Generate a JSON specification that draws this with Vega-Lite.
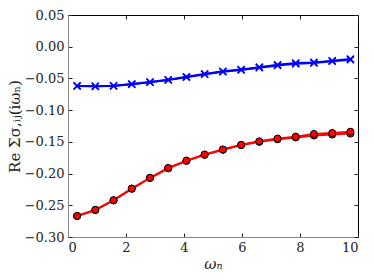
{
  "$schema": "https://vega.github.io/schema/vega-lite/v6.json",
  "autosize": {"type": "none"},
  "padding": {"left": 68, "top": 15, "right": 16, "bottom": 43},
  "width": 290,
  "height": 222,
  "background": "white",
  "config": {
    "view": {"stroke": "black", "strokeWidth": 1},
    "font": "DejaVu Serif",
    "axis": {"grid": false, "labelFont": "DejaVu Serif", "titleFont": "DejaVu Serif", "labelFontSize": 13, "titleFontSize": 15, "titleFontWeight": "normal", "labelColor": "#222", "titleColor": "#222"}
  },
  "datasets": {
    "d": [
      {"w": 0.314, "v": -0.267, "s": "ra", "c": "red"},
      {"w": 0.942, "v": -0.2575, "s": "ra", "c": "red"},
      {"w": 1.571, "v": -0.2423, "s": "ra", "c": "red"},
      {"w": 2.199, "v": -0.224, "s": "ra", "c": "red"},
      {"w": 2.827, "v": -0.207, "s": "ra", "c": "red"},
      {"w": 3.456, "v": -0.1918, "s": "ra", "c": "red"},
      {"w": 4.084, "v": -0.18, "s": "ra", "c": "red"},
      {"w": 4.712, "v": -0.1705, "s": "ra", "c": "red"},
      {"w": 5.341, "v": -0.1625, "s": "ra", "c": "red"},
      {"w": 5.969, "v": -0.1552, "s": "ra", "c": "red"},
      {"w": 6.597, "v": -0.15, "s": "ra", "c": "red"},
      {"w": 7.226, "v": -0.1458, "s": "ra", "c": "red"},
      {"w": 7.854, "v": -0.143, "s": "ra", "c": "red"},
      {"w": 8.482, "v": -0.14, "s": "ra", "c": "red"},
      {"w": 9.111, "v": -0.1385, "s": "ra", "c": "red"},
      {"w": 9.739, "v": -0.137, "s": "ra", "c": "red"},
      {"w": 0.314, "v": -0.2668, "s": "rb", "c": "red"},
      {"w": 0.942, "v": -0.2572, "s": "rb", "c": "red"},
      {"w": 1.571, "v": -0.242, "s": "rb", "c": "red"},
      {"w": 2.199, "v": -0.2236, "s": "rb", "c": "red"},
      {"w": 2.827, "v": -0.2066, "s": "rb", "c": "red"},
      {"w": 3.456, "v": -0.1912, "s": "rb", "c": "red"},
      {"w": 4.084, "v": -0.1795, "s": "rb", "c": "red"},
      {"w": 4.712, "v": -0.17, "s": "rb", "c": "red"},
      {"w": 5.341, "v": -0.162, "s": "rb", "c": "red"},
      {"w": 5.969, "v": -0.1546, "s": "rb", "c": "red"},
      {"w": 6.597, "v": -0.1492, "s": "rb", "c": "red"},
      {"w": 7.226, "v": -0.1448, "s": "rb", "c": "red"},
      {"w": 7.854, "v": -0.1418, "s": "rb", "c": "red"},
      {"w": 8.482, "v": -0.1375, "s": "rb", "c": "red"},
      {"w": 9.111, "v": -0.136, "s": "rb", "c": "red"},
      {"w": 9.739, "v": -0.134, "s": "rb", "c": "red"},
      {"w": 0.314, "v": -0.062, "s": "ba", "c": "blue"},
      {"w": 0.942, "v": -0.0625, "s": "ba", "c": "blue"},
      {"w": 1.571, "v": -0.062, "s": "ba", "c": "blue"},
      {"w": 2.199, "v": -0.0592, "s": "ba", "c": "blue"},
      {"w": 2.827, "v": -0.056, "s": "ba", "c": "blue"},
      {"w": 3.456, "v": -0.0525, "s": "ba", "c": "blue"},
      {"w": 4.084, "v": -0.048, "s": "ba", "c": "blue"},
      {"w": 4.712, "v": -0.0435, "s": "ba", "c": "blue"},
      {"w": 5.341, "v": -0.0395, "s": "ba", "c": "blue"},
      {"w": 5.969, "v": -0.0368, "s": "ba", "c": "blue"},
      {"w": 6.597, "v": -0.033, "s": "ba", "c": "blue"},
      {"w": 7.226, "v": -0.0295, "s": "ba", "c": "blue"},
      {"w": 7.854, "v": -0.027, "s": "ba", "c": "blue"},
      {"w": 8.482, "v": -0.0255, "s": "ba", "c": "blue"},
      {"w": 9.111, "v": -0.023, "s": "ba", "c": "blue"},
      {"w": 9.739, "v": -0.0205, "s": "ba", "c": "blue"},
      {"w": 0.314, "v": -0.0618, "s": "bb", "c": "blue"},
      {"w": 0.942, "v": -0.0623, "s": "bb", "c": "blue"},
      {"w": 1.571, "v": -0.0617, "s": "bb", "c": "blue"},
      {"w": 2.199, "v": -0.0589, "s": "bb", "c": "blue"},
      {"w": 2.827, "v": -0.0556, "s": "bb", "c": "blue"},
      {"w": 3.456, "v": -0.052, "s": "bb", "c": "blue"},
      {"w": 4.084, "v": -0.0475, "s": "bb", "c": "blue"},
      {"w": 4.712, "v": -0.0429, "s": "bb", "c": "blue"},
      {"w": 5.341, "v": -0.0388, "s": "bb", "c": "blue"},
      {"w": 5.969, "v": -0.036, "s": "bb", "c": "blue"},
      {"w": 6.597, "v": -0.0322, "s": "bb", "c": "blue"},
      {"w": 7.226, "v": -0.0285, "s": "bb", "c": "blue"},
      {"w": 7.854, "v": -0.0258, "s": "bb", "c": "blue"},
      {"w": 8.482, "v": -0.0247, "s": "bb", "c": "blue"},
      {"w": 9.111, "v": -0.0222, "s": "bb", "c": "blue"},
      {"w": 9.739, "v": -0.0195, "s": "bb", "c": "blue"}
    ]
  },
  "data": {"name": "d"},
  "resolve": {"axis": {"x": "independent", "y": "independent"}},
  "layer": [
    {
      "transform": [{"filter": "datum.c == 'red'"}],
      "mark": {"type": "line", "color": "#ff0000", "strokeWidth": 2},
      "encoding": {
        "x": {"field": "w", "type": "quantitative", "scale": {"domain": [0, 10], "nice": false, "zero": false},
          "axis": {"title": "ωₙ", "values": [0, 2, 4, 6, 8, 10], "format": "d", "labelFont": "DejaVu Serif", "titleFont": "DejaVu Serif", "titleFontStyle": "italic", "domainColor": "#888", "tickColor": "#222", "tickSize": -4, "labelPadding": 8, "titlePadding": 2}},
        "y": {"field": "v", "type": "quantitative", "scale": {"domain": [-0.3, 0.05], "nice": false, "zero": false},
          "axis": {"title": "Re Σσ,ᵢⱼ(iωₙ)", "values": [-0.3, -0.25, -0.2, -0.15, -0.1, -0.05, 0, 0.05], "format": ".2f", "labelFont": "DejaVu Serif", "titleFont": "DejaVu Serif", "domainColor": "#888", "tickColor": "#222", "tickSize": -4, "labelPadding": 8, "titlePadding": 2}},
        "detail": {"field": "s"}
      }
    },
    {
      "transform": [{"filter": "datum.c == 'red'"}],
      "mark": {"type": "point", "shape": "circle", "filled": true, "fill": "#ff0000", "stroke": "#000000", "strokeWidth": 1, "size": 50, "opacity": 1},
      "encoding": {
        "x": {"field": "w", "type": "quantitative", "axis": null},
        "y": {"field": "v", "type": "quantitative", "axis": null}
      }
    },
    {
      "transform": [{"filter": "datum.c == 'blue'"}],
      "mark": {"type": "line", "color": "#0000ff", "strokeWidth": 2},
      "encoding": {
        "x": {"field": "w", "type": "quantitative", "axis": null},
        "y": {"field": "v", "type": "quantitative", "axis": null},
        "detail": {"field": "s"}
      }
    },
    {
      "transform": [{"filter": "datum.c == 'blue'"}],
      "mark": {"type": "point", "shape": "M-1,-1L1,1M1,-1L-1,1", "filled": false, "stroke": "#0000ff", "strokeWidth": 1.5, "size": 50, "opacity": 1},
      "encoding": {
        "x": {"field": "w", "type": "quantitative", "axis": null},
        "y": {"field": "v", "type": "quantitative", "axis": null}
      }
    },
    {
      "transform": [{"filter": "datum.s == 'ra'"}],
      "mark": {"type": "point", "opacity": 0},
      "encoding": {
        "x": {"field": "w", "type": "quantitative",
          "axis": {"orient": "top", "title": null, "labels": false, "domain": false, "values": [0, 2, 4, 6, 8, 10], "tickColor": "#222", "tickSize": -4}},
        "y": {"field": "v", "type": "quantitative",
          "axis": {"orient": "right", "title": null, "labels": false, "domain": false, "values": [-0.3, -0.25, -0.2, -0.15, -0.1, -0.05, 0, 0.05], "tickColor": "#222", "tickSize": -4}}
      }
    }
  ]
}
